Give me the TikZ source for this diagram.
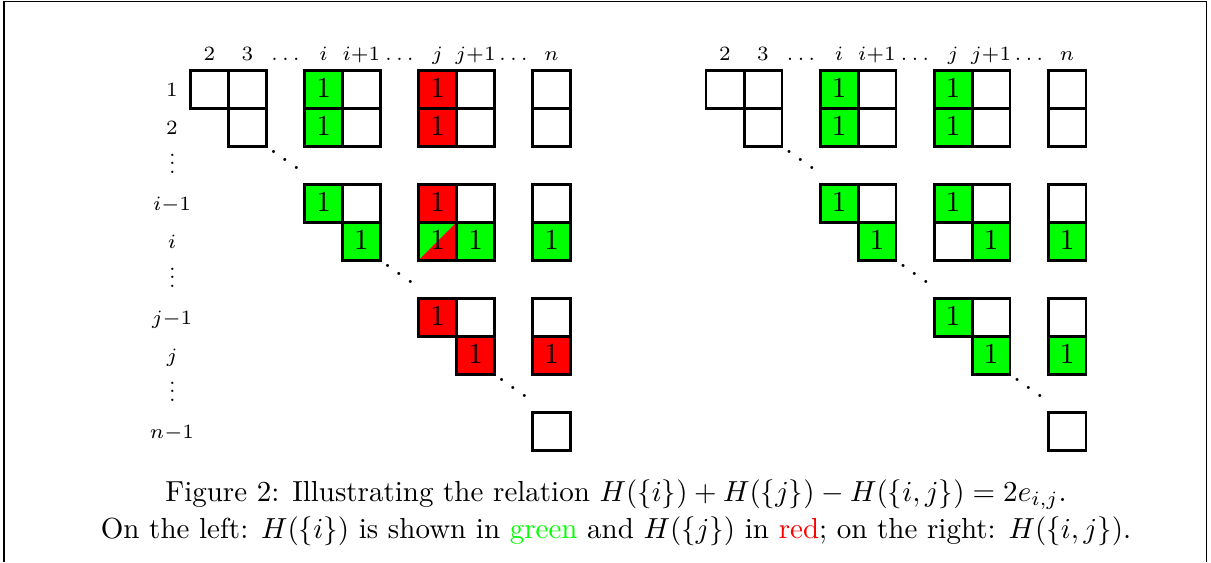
\documentclass[tikz,border=0pt]{standalone}
\usepackage{xcolor}
\definecolor{pgreen}{RGB}{0,255,0}
\definecolor{pred}{RGB}{255,0,0}
\newcommand{\dgdots}{\hbox{\kern0.55pt\raise6.52pt\hbox{.}\kern1.11pt\raise3.76pt\hbox{.}\kern1.11pt\raise1pt\hbox{.}\kern0.55pt}}
\newcommand{\vtdots}{\vbox{\baselineskip2.83pt\lineskiplimit-10pt\lineskip0pt\hbox{.}\hbox{.}\hbox{.}}}
\begin{document}
\begin{tikzpicture}[x=0.3448pt,y=-0.3448pt,
  cellbox/.style={draw=black, line width=1.03pt, minimum size=13.1pt, inner sep=0pt, text depth=1pt, font=\normalsize},
  wcell/.style={cellbox, fill=white},
  gcell/.style={cellbox, fill=pgreen},
  rcell/.style={cellbox, fill=pred},
  scell/.style={cellbox, fill=pred, path picture={\fill[pgreen] (path picture bounding box.south west) -- (path picture bounding box.north west) -- (path picture bounding box.north east) -- cycle;}},
  lab/.style={font=\scriptsize, anchor=base, inner sep=0pt},
  vdotsnode/.style={anchor=base, inner sep=0pt, font=\scriptsize},
  dotsnode/.style={anchor=base, inner sep=0pt, font=\normalsize},
  capline/.style={anchor=base, inner sep=0pt, font=\normalsize},
  frameline/.style={draw=black, line width=0.45pt}]
\useasboundingbox (0,0) rectangle (1211,562);
% frame
\coordinate (f1) at (4,562);
\coordinate (f2) at (4,1.5);
\coordinate (f3) at (1206.7,1.5);
\coordinate (f4) at (1206.7,562);
\draw[frameline] (f1) -- (f2) -- (f3) -- (f4);
% column labels
\foreach \side/\off in {L/0,R/515.5}{
  \foreach \c/\t in {0/2,1/3,2/\dots,3/i,4/i{+}1,5/\dots,6/j,7/j{+}1,8/\dots,9/n}{
    \node[lab] (\side-col-\c) at ({209.5+38*\c+\off},60) {$\t$};
  }
}
% row labels
\foreach \r/\t in {0/1,1/2,3/i{-}1,4/i,6/j{-}1,7/j,9/n{-}1}{
  \node[lab] (row-\r) at (172,{89+38*\r+7.5}) {$\t$};
}
\foreach \r in {2,5,8}{
  \node[vdotsnode] (vd-\r) at (172.3,{89+38*\r+8.1}) {\vtdots};
}
% diagonal dots
\foreach \side/\off in {L/0,R/515.5}{
  \foreach \k in {2,5,8}{
    \node[dotsnode] (\side-dd-\k) at ({209.5+38*\k-0.5+\off},{89+38*\k+7.8}) {\dgdots};
  }
}
% left matrix
\foreach \r/\c in {0/0,0/1,0/4,0/7,0/9,1/1,1/4,1/7,1/9,3/4,3/7,3/9,6/7,6/9,9/9}{
  \node[wcell] (L-\r-\c) at ({209.5+38*\c},{89+38*\r}) {};
}
\foreach \r/\c in {0/3,1/3,3/3,4/4,4/7,4/9}{
  \node[gcell] (L-\r-\c) at ({209.5+38*\c},{89+38*\r}) {1};
}
\foreach \r/\c in {0/6,1/6,3/6,6/6,7/7,7/9}{
  \node[rcell] (L-\r-\c) at ({209.5+38*\c},{89+38*\r}) {1};
}
\node[scell] (L-4-6) at ({209.5+38*6},{89+38*4}) {1};
% right matrix
\foreach \r/\c in {0/0,0/1,0/4,0/7,0/9,1/1,1/4,1/7,1/9,3/4,3/7,3/9,4/6,6/7,6/9,9/9}{
  \node[wcell] (R-\r-\c) at ({725+38*\c},{89+38*\r}) {};
}
\foreach \r/\c in {0/3,1/3,3/3,4/4,4/7,4/9,0/6,1/6,3/6,6/6,7/7,7/9}{
  \node[gcell] (R-\r-\c) at ({725+38*\c},{89+38*\r}) {1};
}
% caption
\node[capline] (cap1) at (616,501) {Figure 2: Illustrating the relation $H(\{i\})+H(\{j\})-H(\{i,j\})=2e_{i,j}$.};
\node[capline] (cap2) at (616,538) {On the left: $H(\{i\})$ is shown in \textcolor{pgreen}{green} and $H(\{j\})$ in \textcolor{pred}{red}; on the right: $H(\{i,j\})$.};
\end{tikzpicture}
\end{document}
